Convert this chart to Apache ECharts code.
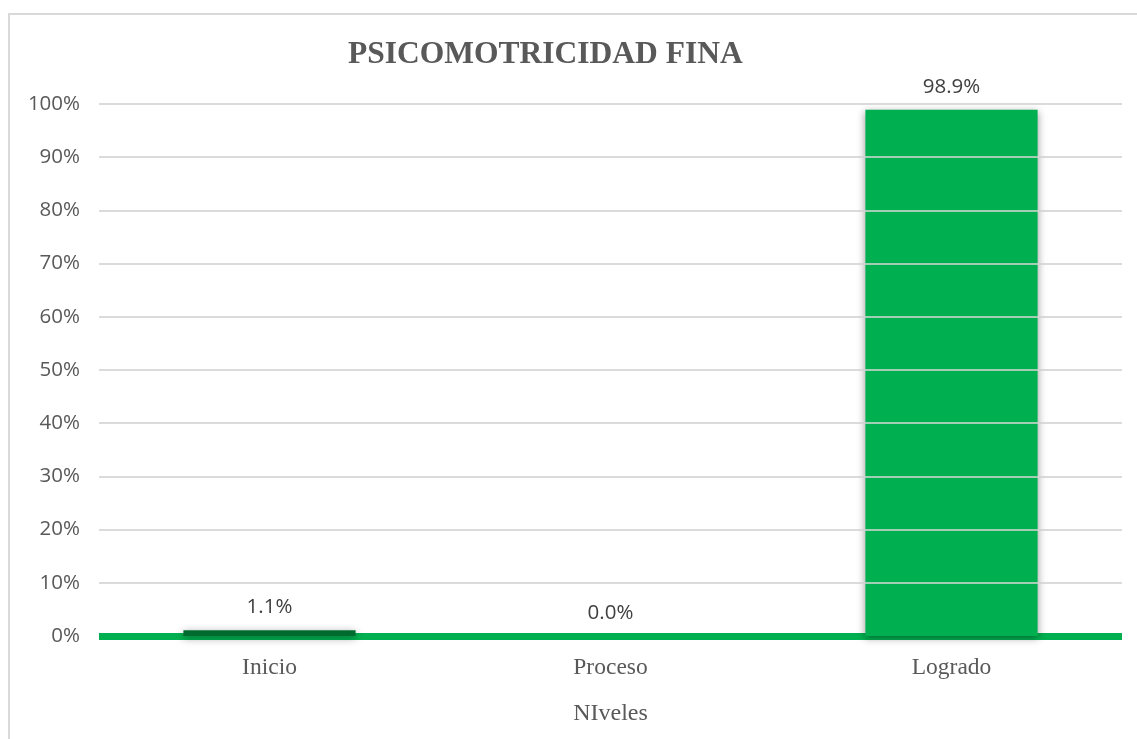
<!DOCTYPE html>
<html>
<head>
<meta charset="utf-8">
<script src="https://cdn.jsdelivr.net/npm/echarts@6/dist/echarts.min.js"></script>
<style>
html, body { margin: 0; padding: 0; background: #fff; }
#frame {
	position: absolute; left: 8px; top: 13px; width: 1200px; height: 800px;
	border-top: 2px solid #d9d9d9; border-left: 2px solid #d9d9d9;
}
#chart { position: absolute; left: 0; top: 0; width: 1137px; height: 739px; }
</style>
</head>
<body>
<div id="frame"></div>
<div id="chart"></div>
<script>
var categories = ['Inicio', 'Proceso', 'Logrado'];
var values = [1.1, 0.0, 98.9];
var barColors = ['#006b2e', '#00b050', '#00b050'];
var gridTicks = [10, 20, 30, 40, 50, 60, 70, 80, 90, 100];

var chart = echarts.init(document.getElementById('chart'));

var data = values.map(function (v, i) {
	return { value: v, itemStyle: { color: barColors[i] } };
});

chart.setOption({
	animation: false,
	title: {
		text: 'PSICOMOTRICIDAD FINA',
		left: 343,
		top: 34,
		textStyle: {
			fontFamily: 'Liberation Serif',
			fontWeight: 'bold',
			fontSize: 31.5,
			color: '#595959'
		}
	},
	grid: { left: 99, right: 15, top: 104, bottom: 103, outerBoundsMode: 'none' },
	xAxis: {
		type: 'category',
		data: categories,
		name: 'NIveles',
		nameLocation: 'middle',
		nameGap: 66,
		nameTextStyle: { fontFamily: 'Liberation Serif', fontSize: 24, color: '#595959' },
		axisTick: { show: false },
		axisLine: { lineStyle: { color: '#00b050', width: 7, cap: 'butt' } },
		axisLabel: {
			margin: 20,
			fontFamily: 'Liberation Serif',
			fontSize: 23.5,
			color: '#595959'
		}
	},
	yAxis: {
		type: 'value',
		min: 0,
		max: 100,
		interval: 10,
		axisLabel: {
			formatter: '{value}%',
			margin: 19,
			fontFamily: 'Open Sans',
			fontSize: 20.5,
			color: '#595959'
		},
		splitLine: { lineStyle: { color: '#d9d9d9', width: 1.5 } }
	},
	series: [{
		type: 'bar',
		data: data,
		barWidth: '50.5%',
		itemStyle: {
			shadowBlur: 8,
			shadowColor: 'rgba(0,0,0,0.4)',
			shadowOffsetY: 2
		},
		label: {
			show: true,
			position: 'top',
			distance: 12,
			formatter: function (p) { return p.value.toFixed(1) + '%'; },
			fontFamily: 'Open Sans',
			fontSize: 20.5,
			color: '#404040'
		},
		markLine: {
			silent: true,
			symbol: 'none',
			label: { show: false },
			lineStyle: { color: '#d9d9d9', width: 1.5, type: 'solid' },
			data: gridTicks.map(function (t) { return { yAxis: t }; })
		}
	}]
});
</script>
</body>
</html>
